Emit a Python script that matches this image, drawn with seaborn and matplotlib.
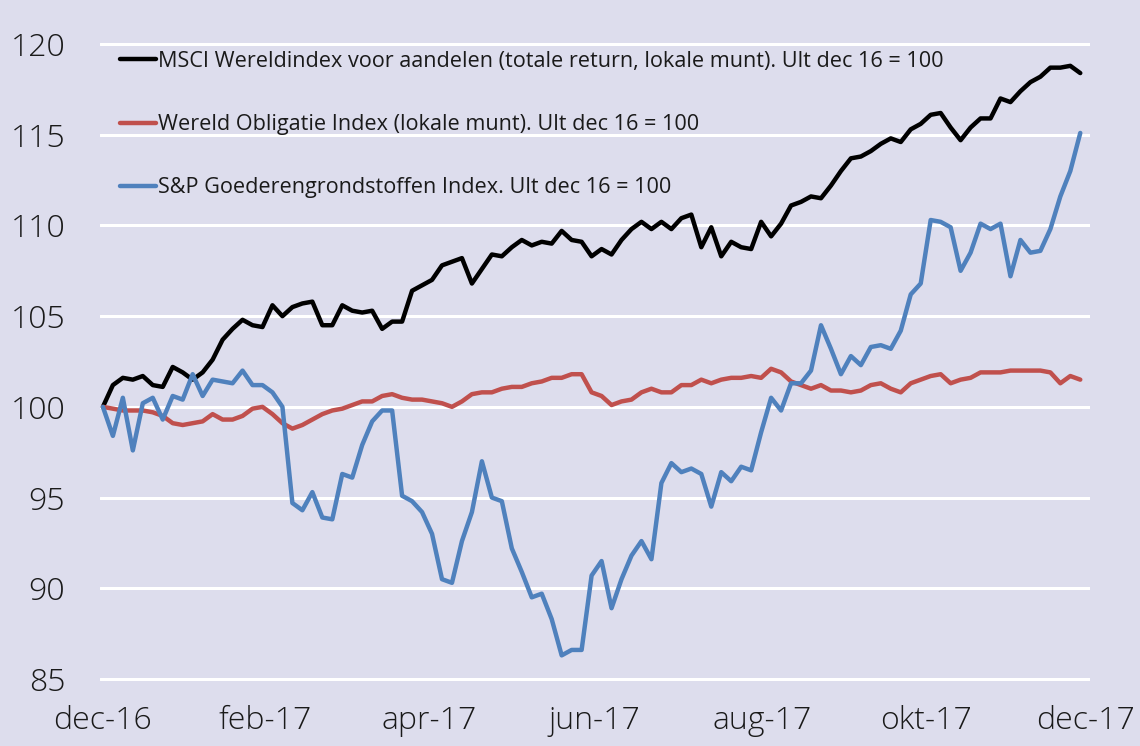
import numpy as np
import pandas as pd
import matplotlib.pyplot as plt
import seaborn as sns

# Index levels (Ult dec 16 = 100), read off roughly every 3.7 days from 30 dec 2016 to end 2017
msci = [100.0, 101.2, 101.6, 101.5, 101.7, 101.2, 101.1, 102.2, 101.9, 101.5,
        101.9, 102.6, 103.7, 104.3, 104.8, 104.5, 104.4, 105.6, 105.0, 105.5,
        105.7, 105.8, 104.5, 104.5, 105.6, 105.3, 105.2, 105.3, 104.3, 104.7,
        104.7, 106.4, 106.7, 107.0, 107.8, 108.0, 108.2, 106.8, 107.6, 108.4,
        108.3, 108.8, 109.2, 108.9, 109.1, 109.0, 109.7, 109.2, 109.1, 108.3,
        108.7, 108.4, 109.2, 109.8, 110.2, 109.8, 110.2, 109.8, 110.4, 110.6,
        108.8, 109.9, 108.3, 109.1, 108.8, 108.7, 110.2, 109.4, 110.1, 111.1,
        111.3, 111.6, 111.5, 112.2, 113.0, 113.7, 113.8, 114.1, 114.5, 114.8,
        114.6, 115.3, 115.6, 116.1, 116.2, 115.4, 114.7, 115.4, 115.9, 115.9,
        117.0, 116.8, 117.4, 117.9, 118.2, 118.7, 118.7, 118.8, 118.4]

wereld = [100.0, 99.9, 99.8, 99.8, 99.8, 99.7, 99.5, 99.1, 99.0, 99.1,
          99.2, 99.6, 99.3, 99.3, 99.5, 99.9, 100.0, 99.6, 99.1, 98.8,
          99.0, 99.3, 99.6, 99.8, 99.9, 100.1, 100.3, 100.3, 100.6, 100.7,
          100.5, 100.4, 100.4, 100.3, 100.2, 100.0, 100.3, 100.7, 100.8, 100.8,
          101.0, 101.1, 101.1, 101.3, 101.4, 101.6, 101.6, 101.8, 101.8, 100.8,
          100.6, 100.1, 100.3, 100.4, 100.8, 101.0, 100.8, 100.8, 101.2, 101.2,
          101.5, 101.3, 101.5, 101.6, 101.6, 101.7, 101.6, 102.1, 101.9, 101.4,
          101.2, 101.0, 101.2, 100.9, 100.9, 100.8, 100.9, 101.2, 101.3, 101.0,
          100.8, 101.3, 101.5, 101.7, 101.8, 101.3, 101.5, 101.6, 101.9, 101.9,
          101.9, 102.0, 102.0, 102.0, 102.0, 101.9, 101.3, 101.7, 101.5]

gsci = [100.0, 98.4, 100.5, 97.6, 100.2, 100.5, 99.3, 100.6, 100.4, 101.8,
        100.6, 101.5, 101.4, 101.3, 102.0, 101.2, 101.2, 100.8, 100.0, 94.7,
        94.3, 95.3, 93.9, 93.8, 96.3, 96.1, 97.9, 99.2, 99.8, 99.8,
        95.1, 94.8, 94.2, 93.0, 90.5, 90.3, 92.6, 94.2, 97.0, 95.0,
        94.8, 92.2, 90.9, 89.5, 89.7, 88.3, 86.3, 86.6, 86.6, 90.7,
        91.5, 88.9, 90.5, 91.8, 92.6, 91.6, 95.8, 96.9, 96.4, 96.6,
        96.3, 94.5, 96.4, 95.9, 96.7, 96.5, 98.6, 100.5, 99.8, 101.3,
        101.3, 102.0, 104.5, 103.2, 101.8, 102.8, 102.3, 103.3, 103.4, 103.2,
        104.2, 106.2, 106.8, 110.3, 110.2, 109.9, 107.5, 108.5, 110.1, 109.8,
        110.1, 107.2, 109.2, 108.5, 108.6, 109.8, 111.6, 113.0, 115.1]

series_names = ['MSCI Wereldindex voor aandelen (totale return, lokale munt). Ult dec 16 = 100',
                'Wereld Obligatie Index (lokale munt). Ult dec 16 = 100',
                'S&P Goederengrondstoffen Index. Ult dec 16 = 100']
colors = ['#000000', '#C0504D', '#4F81BD']

tick_dates = ['2016-12-30', '2017-02-28', '2017-04-30', '2017-06-30',
              '2017-08-31', '2017-10-31', '2017-12-29']
tick_labels = ['dec-16', 'feb-17', 'apr-17', 'jun-17', 'aug-17', 'okt-17', 'dec-17']
y_ticks = [85, 90, 95, 100, 105, 110, 115, 120]

dates = pd.date_range('2016-12-30', '2017-12-27', periods=len(msci))
df = pd.concat([
    pd.DataFrame({'datum': dates, 'index': vals, 'reeks': name})
    for name, vals in zip(series_names, [msci, wereld, gsci])
])

bg = '#DDDDED'
sns.set_theme(style='darkgrid', rc={'axes.facecolor': bg, 'figure.facecolor': bg,
                                    'grid.color': 'white', 'grid.linewidth': 2.2})
plt.rcParams['font.family'] = ['Open Sans', 'DejaVu Sans']

fig = plt.figure(figsize=(11.4, 7.46), dpi=100)
ax = fig.add_axes([0.0877, 0.085, 0.8684, 0.8608])

sns.lineplot(data=df, x='datum', y='index', hue='reeks', palette=dict(zip(series_names, colors)),
             linewidth=3.2, ax=ax)

ax.set_ylim(84.8, 120.2)
ax.set_xlim(pd.Timestamp('2016-12-28 22:00'), pd.Timestamp('2017-12-30 14:00'))
ax.set_yticks(y_ticks)
ax.set_yticklabels([str(v) for v in y_ticks], fontsize=23, color='#1a1a1a', fontweight='light')
ax.set_xticks(pd.to_datetime(tick_dates))
ax.set_xticklabels(tick_labels, fontsize=23, color='#1a1a1a', fontweight='light')
ax.tick_params(axis='y', length=0, pad=25)
ax.tick_params(axis='x', length=0, pad=16)
ax.grid(axis='x', visible=False)
ax.set_xlabel('')
ax.set_ylabel('')
for s in ax.spines.values():
    s.set_visible(False)

handles, labels = ax.get_legend_handles_labels()
ax.legend(handles, labels, loc='upper left', bbox_to_anchor=(120 / 1140, 1 - 51 / 746),
          bbox_transform=fig.transFigure, frameon=False, fontsize=15.6,
          handlelength=1.65, handletextpad=0.1, labelspacing=1.95, borderpad=0, borderaxespad=0,
          labelcolor='#1a1a1a')

fig.savefig('out.png', dpi=100, facecolor=bg)
